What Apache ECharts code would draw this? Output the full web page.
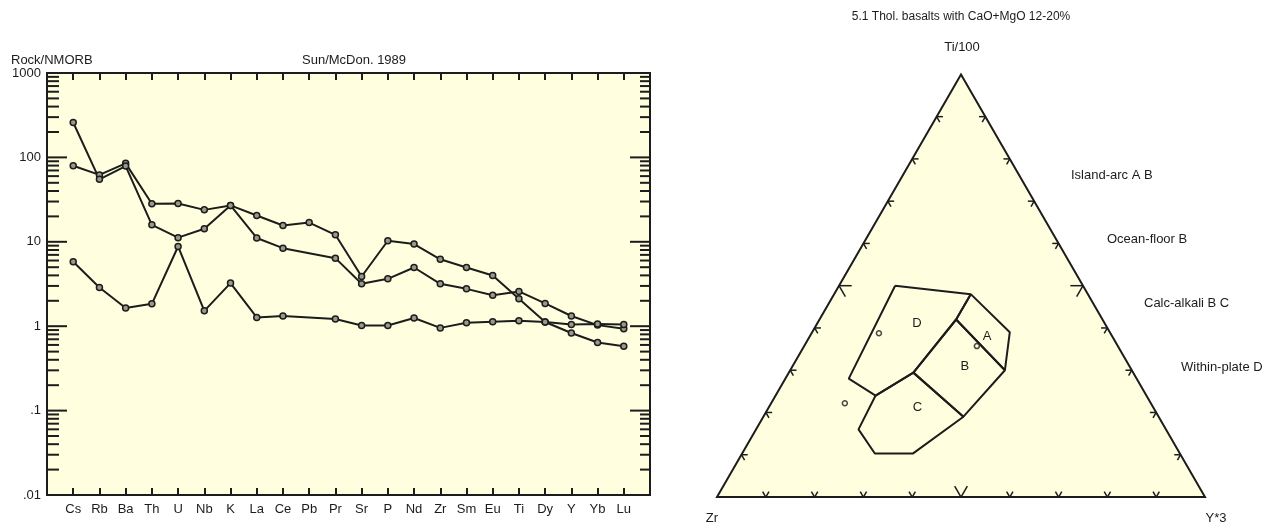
<!DOCTYPE html>
<html>
<head>
<meta charset="utf-8">
<script src="https://cdn.jsdelivr.net/npm/echarts@6/dist/echarts.min.js"></script>
<style>
  html, body { margin: 0; padding: 0; background: #fff; }
  #chart { width: 1264px; height: 524px; }
</style>
</head>
<body>
<div id="chart"></div>
<script>
// spider diagram (Rock / NMORB)
const elements = ['Cs', 'Rb', 'Ba', 'Th', 'U', 'Nb', 'K', 'La', 'Ce', 'Pb', 'Pr', 'Sr', 'P', 'Nd', 'Zr', 'Sm', 'Eu', 'Ti', 'Dy', 'Y', 'Yb', 'Lu'];
const sample1 = [79.6, 62, 85, 28.2, 28.5, 23.9, 27, 20.5, 15.6, 16.9, 12.1, 3.88, 10.3, 9.4, 6.2, 4.96, 3.98, 2.11, 1.12, 0.83, 0.64, 0.58];
const sample2 = [259, 55, 79, 15.9, 11.2, 14.3, 27, 11.1, 8.4, null, 6.4, 3.18, 3.64, 4.96, 3.18, 2.77, 2.33, 2.58, 1.86, 1.32, 1.03, 0.93];
const sample3 = [5.8, 2.87, 1.64, 1.84, 8.8, 1.52, 3.24, 1.27, 1.32, null, 1.22, 1.02, 1.02, 1.25, 0.955, 1.10, 1.13, 1.16, 1.12, 1.05, 1.06, 1.05];
const yTickLabels = ['.01', '.1', '1', '10', '100', '1000'];

// ternary Ti/100 - Zr - Y*3, points as [Ti, Zr, Y] percent
const fieldA = [[48, 24, 28], [39, 20.5, 40.5], [30, 26, 44], [42, 30, 28]];
const fieldB = [[42, 30, 28], [30, 26, 44], [19, 40, 41], [29.4, 45, 25.5]];
const fieldC = [[24, 55.5, 20.5], [29.4, 45, 25.5], [19, 40, 41], [10.3, 54.6, 35], [10.3, 62.5, 27.2], [16, 63, 21]];
const fieldD = [[50, 38.5, 11.5], [48, 24, 28], [42, 30, 28], [29.4, 45, 25.5], [24, 55.5, 20.5], [28, 59, 13]];
const fieldNames = ['A', 'B', 'C', 'D'];
const fieldNamePos = [[37.9, 25.7, 36.4], [31, 33.7, 35.3], [21.1, 48.4, 30.5], [41.1, 38.5, 20.4]];
const samplesTernary = [[38.7, 47.4, 13.8], [35.7, 28.9, 35.4], [22.2, 62.7, 15.1]];
const ternaryTicks = [10, 20, 30, 40, 50, 60, 70, 80, 90];
const tectonicLabels = ['Island-arc A B', 'Ocean-floor B', 'Calc-alkali B C', 'Within-plate D'];

const ink = '#1c1c1c';
const paper = '#ffffe0';
const fontFam = "'Liberation Sans', Arial, sans-serif";
const H = Math.sqrt(3) / 2;

const toXY = p => {
    const s = p[0] + p[1] + p[2];
    const c = p[0] / s, b = p[2] / s;
    return [b + c / 2, c * H];
};

const pairs = arr => arr.map((v, i) => v == null ? null : [i + 1, v]).filter(d => d);

// log ticks: 1 = decade, 0 = minor
const logTicks = [];
for (let e = -2; e < 3; e++) {
    for (let m = 1; m < 10; m++) {
        if (m === 1 && e === -2) continue;
        logTicks.push([0, m * Math.pow(10, e), m === 1 ? 1 : 0]);
    }
}

const tickSegs = [];
ternaryTicks.forEach(t => {
    const len = t === 50 ? 0.026 : 0.013;
    const f = t / 100;
    const bp = [f, 0], lp = [f * 0.5, f * H], rp = [1 - f * 0.5, f * H];
    [[bp, [0.5, H]], [bp, [-0.5, H]], [lp, [1, 0]], [lp, [0.5, -H]], [rp, [-1, 0]], [rp, [-0.5, -H]]]
        .forEach(([p, d]) => tickSegs.push([p[0], p[1], p[0] + d[0] * len, p[1] + d[1] * len]));
});

const spiderX = (pos, showLabel) => ({
    type: 'value', gridIndex: 0, position: pos, min: 0, max: 23, interval: 1,
    axisLine: { show: false },
    axisTick: { inside: true, length: 7, lineStyle: { color: ink, width: 2 } },
    axisLabel: { show: showLabel, margin: 8, fontSize: 13, color: ink, fontFamily: fontFam,
        formatter: v => elements[v - 1] || '' },
    splitLine: { show: false }
});

const spiderY = (pos, showLabel) => ({
    type: 'log', logBase: 10, gridIndex: 0, position: pos, min: 0.01, max: 1000,
    axisLine: { show: false },
    axisTick: { show: false },
    axisLabel: { show: showLabel, margin: 6, fontSize: 13, color: ink, fontFamily: fontFam,
        formatter: v => yTickLabels[Math.round(Math.log10(v)) + 2] },
    splitLine: { show: false }
});

const lineSeries = data => ({
    type: 'line', xAxisIndex: 0, yAxisIndex: 0, data: pairs(data),
    symbol: 'circle', symbolSize: 6, z: 5,
    lineStyle: { color: ink, width: 2 },
    itemStyle: { color: '#9a9a8a', borderColor: ink, borderWidth: 1.5 }
});

const fieldSeries = f => ({
    type: 'line', xAxisIndex: 2, yAxisIndex: 2, symbol: 'none', z: 4,
    data: f.concat([f[0]]).map(toXY),
    lineStyle: { color: ink, width: 2 }
});

const txt = (text, x, y, align, size) => ({
    type: 'text', x: x, y: y,
    style: { text: text, fill: ink, font: (size || 13) + 'px ' + fontFam, textAlign: align, textVerticalAlign: 'middle' }
});

const chart = echarts.init(document.getElementById('chart'));

const options = {
    animation: false,
    grid: [
        { left: 47, top: 73, width: 603, height: 422, show: true, backgroundColor: paper, borderColor: ink, borderWidth: 2 },
        { left: 717, top: 497 - 488 * H, width: 488, height: 488 * H, show: false }
    ],
    xAxis: [
        spiderX('bottom', true),
        spiderX('top', false),
        { type: 'value', gridIndex: 1, min: 0, max: 1, show: false }
    ],
    yAxis: [
        spiderY('left', true),
        spiderY('right', false),
        { type: 'value', gridIndex: 1, min: 0, max: H, show: false }
    ],
    graphic: [
        txt('Rock/NMORB', 11, 60, 'left'),
        txt('Sun/McDon. 1989', 302, 60, 'left'),
        txt('5.1 Thol. basalts with CaO+MgO 12-20%', 961, 17, 'center', 12),
        txt('Ti/100', 962, 47, 'center'),
        txt('Zr', 712, 518, 'center'),
        txt('Y*3', 1216, 518, 'center'),
        txt(tectonicLabels[0], 1071, 175, 'left'),
        txt(tectonicLabels[1], 1107, 239, 'left'),
        txt(tectonicLabels[2], 1144, 303, 'left'),
        txt(tectonicLabels[3], 1181, 367, 'left')
    ],
    series: [
        {
            type: 'custom', xAxisIndex: 0, yAxisIndex: 0, data: logTicks, z: 3,
            renderItem: (params, api) => {
                const l = api.coord([0, api.value(1)]);
                const r = api.coord([23, api.value(1)]);
                const major = api.value(2) === 1;
                return {
                    type: 'group', children: [
                        { type: 'line', shape: { x1: l[0], y1: l[1], x2: l[0] + (major ? 20 : 12), y2: l[1] }, style: { stroke: ink, lineWidth: 2 } },
                        { type: 'line', shape: { x1: r[0], y1: r[1], x2: r[0] - (major ? 20 : 10), y2: r[1] }, style: { stroke: ink, lineWidth: 2 } }
                    ]
                };
            }
        },
        lineSeries(sample1),
        lineSeries(sample2),
        lineSeries(sample3),
        {
            type: 'custom', xAxisIndex: 2, yAxisIndex: 2, data: [[0, 0]], z: 1,
            renderItem: (params, api) => ({
                type: 'polygon',
                shape: { points: [[0, 100, 0], [0, 0, 100], [100, 0, 0]].map(p => api.coord(toXY(p))) },
                style: { fill: paper, stroke: ink, lineWidth: 2 }
            })
        },
        {
            type: 'custom', xAxisIndex: 2, yAxisIndex: 2, data: tickSegs, z: 3,
            renderItem: (params, api) => {
                const a = api.coord([api.value(0), api.value(1)]);
                const b = api.coord([api.value(2), api.value(3)]);
                return { type: 'line', shape: { x1: a[0], y1: a[1], x2: b[0], y2: b[1] }, style: { stroke: ink, lineWidth: 1.5 } };
            }
        },
        fieldSeries(fieldA),
        fieldSeries(fieldB),
        fieldSeries(fieldC),
        fieldSeries(fieldD),
        {
            type: 'custom', xAxisIndex: 2, yAxisIndex: 2, z: 5,
            data: fieldNamePos.map((p, i) => toXY(p).concat([i])),
            renderItem: (params, api) => {
                const c = api.coord([api.value(0), api.value(1)]);
                return { type: 'text', x: c[0], y: c[1],
                    style: { text: fieldNames[api.value(2)], fill: ink, font: '13px ' + fontFam, textAlign: 'center', textVerticalAlign: 'middle' } };
            }
        },
        {
            type: 'scatter', xAxisIndex: 2, yAxisIndex: 2, z: 6,
            data: samplesTernary.map(toXY),
            symbol: 'circle', symbolSize: 5,
            itemStyle: { color: paper, borderColor: ink, borderWidth: 1.5 }
        }
    ]
};

chart.setOption(options);
</script>
</body>
</html>
